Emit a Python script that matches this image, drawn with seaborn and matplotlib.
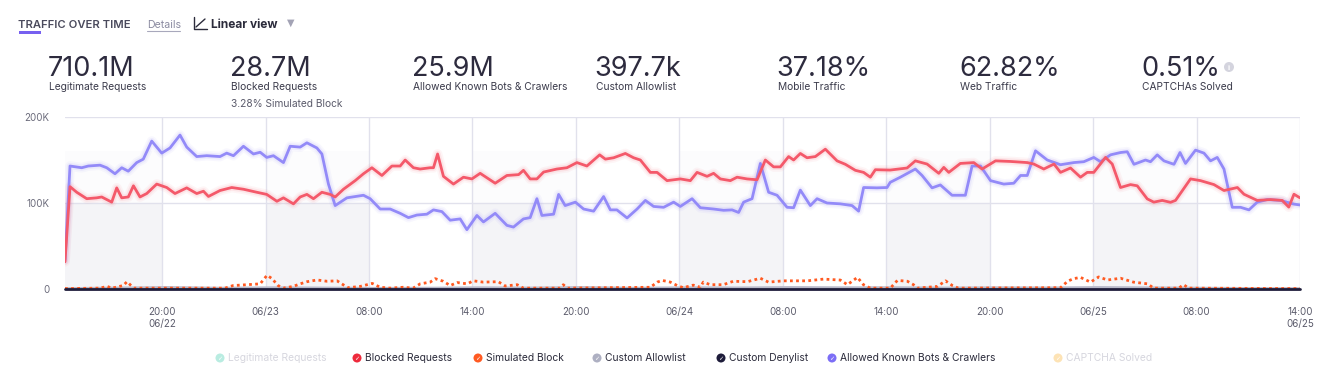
import numpy as np
import pandas as pd
import seaborn as sns
import matplotlib.pyplot as plt
from matplotlib.patches import Circle, Rectangle

# ---- data (hours since start of window, values in thousands) ----
bots_hours = [0.0, 0.29, 0.97, 1.35, 2.03, 2.42, 2.90, 3.29, 3.67, 4.16, 4.54, 5.03, 5.61, 6.09,
              6.67, 7.06, 7.64, 8.22, 8.99, 9.38, 9.77, 10.35, 10.93, 11.32, 11.70, 12.09, 12.67,
              13.06, 13.64, 14.03, 14.61, 14.90, 15.28, 15.67, 16.35, 17.31, 17.70, 18.28, 18.86,
              19.44, 19.92, 20.41, 20.99, 21.37, 21.86, 22.34, 22.92, 23.31, 23.89, 24.27, 24.95,
              25.63, 26.01, 26.59, 26.98, 27.37, 27.66, 28.34, 28.63, 29.01, 29.60, 30.08, 30.66,
              31.24, 31.63, 32.01, 32.60, 33.18, 33.66, 34.14, 34.72, 35.30, 35.69, 36.37, 36.85,
              37.62, 38.20, 38.69, 39.07, 39.36, 39.85, 40.33, 40.81, 41.30, 41.88, 42.26, 42.65,
              43.23, 43.62, 44.20, 44.97, 45.65, 46.03, 46.32, 47.10, 47.68, 47.86, 48.45, 49.32,
              49.71, 50.29, 50.77, 51.45, 52.22, 52.61, 53.10, 53.68, 54.45, 55.03, 55.42, 55.81,
              56.29, 56.97, 57.74, 58.51, 59.09, 59.67, 60.06, 60.64, 61.22, 61.61, 62.00, 62.67,
              62.96, 63.35, 63.74, 64.32, 64.67, 64.99, 65.57, 66.06, 66.44, 66.83, 67.22, 67.70,
              68.18, 68.67, 69.15, 69.73, 70.50, 71.28, 71.63]
bots_k = [34, 143, 141, 143, 144, 141, 134, 141, 137, 147, 151, 172, 158, 164,
          179, 165, 154, 155, 154, 158, 155, 166, 157, 159, 153, 155, 147,
          166, 165, 170, 164, 157, 122, 97, 106, 109, 105, 93, 93,
          88, 83, 86, 87, 92, 90, 80, 81.5, 69, 85.5, 78, 88,
          74, 72, 81.5, 83, 105, 85.5, 87, 110, 97, 101, 93, 90.5,
          107.5, 92, 92, 82.6, 93, 103, 96, 95, 101, 96, 105, 94.5,
          93, 91.5, 92, 89, 101, 105, 146, 112.5, 109, 95, 94.5, 115,
          97, 105, 100, 99, 97, 90.5, 118, 117.6, 118, 124, 130, 139.5,
          132, 117.6, 121, 109, 109, 143, 143, 126, 122, 123, 132, 132,
          160.7, 150, 144.5, 147, 148, 153, 148, 156, 158.7, 159.6, 145, 150,
          148, 156, 149, 145, 158.7, 146, 161.5, 158, 149, 153, 139.5, 95,
          95, 92, 101, 104, 103, 98.7, 97.7]

blocked_hours = [0.0, 0.29, 0.68, 1.26, 1.84, 2.13, 2.71, 3.00, 3.29, 3.67, 3.97, 4.35, 4.74,
                 5.32, 5.90, 6.38, 7.06, 7.64, 8.03, 8.32, 8.99, 9.67, 10.35, 11.12, 11.70,
                 12.29, 12.67, 13.25, 13.64, 14.03, 14.41, 14.90, 15.38, 15.67, 16.15, 16.83,
                 17.31, 17.80, 18.38, 18.96, 19.44, 19.73, 20.21, 20.60, 21.18, 21.37, 21.61,
                 21.95, 22.53, 23.11, 23.60, 24.08, 24.95, 25.63, 26.31, 26.59, 26.98, 27.37,
                 27.76, 28.53, 29.11, 29.69, 30.27, 31.01, 31.34, 31.82, 32.50, 32.98, 33.37,
                 33.95, 34.34, 34.92, 35.69, 36.27, 36.66, 37.24, 37.62, 38.01, 38.59, 38.98,
                 39.56, 40.14, 40.62, 41.10, 41.49, 41.97, 42.26, 42.65, 43.04, 43.52, 44.10,
                 44.78, 45.26, 45.84, 46.32, 46.71, 47.00, 47.86, 48.84, 49.32, 50.00, 50.68,
                 50.97, 51.26, 51.93, 52.71, 53.19, 53.97, 54.84, 55.81, 56.19, 56.77, 57.36,
                 57.74, 58.32, 58.90, 59.29, 59.67, 60.35, 60.74, 61.22, 61.80, 62.19, 62.77,
                 63.15, 63.64, 64.12, 64.41, 65.28, 65.86, 66.64, 67.22, 68.00, 68.38, 69.15,
                 69.92, 70.60, 70.98, 71.28, 71.63]
blocked_k = [31.6, 119, 112.5, 105, 106, 107, 101, 117.6, 106, 107, 120, 107, 111,
             122, 118, 111, 117.6, 111, 113.7, 107.6, 114.5, 118, 116, 112.5, 110,
             102, 106, 99, 107, 110, 105, 112.5, 110, 107, 116, 126,
             134, 141, 132, 143, 143, 150, 141, 139.5, 141, 141, 157,
             131, 122, 130, 128, 134.5, 123, 132, 133, 138, 128, 128,
             136, 139.5, 141, 147, 143, 156, 151, 152.6, 157.6, 152.6, 150,
             135.6, 135.6, 126, 128, 126, 135.6, 131, 134.5, 128, 126, 130,
             128, 127, 150, 142, 142, 154, 150, 157.6, 152.6, 154, 162.6,
             149, 145, 138, 135.6, 130, 138.7, 138.3, 140.7, 149, 145.3, 134.5,
             141.4, 135.6, 146, 147, 139.5, 149, 148.3, 147, 145.3, 139.5, 145.3,
             135.6, 140.7, 130, 135.6, 135.6, 153, 145.3, 118, 121.4, 120, 104.8,
             101, 103, 100.8, 103, 128, 126, 121.4, 114.5, 118, 110.2, 103,
             104, 103, 95.2, 110.2, 106]

sim_hours = [0.0, 2.03, 2.44, 2.73, 3.37, 3.60, 3.83, 4.00, 9.28, 9.75, 10.56, 11.32, 11.72,
             12.01, 12.36, 12.65, 13.23, 13.64, 14.04, 14.62, 15.20, 15.78, 16.13, 16.42,
             17.12, 17.82, 18.28, 18.86, 19.61, 20.19, 20.60, 21.18, 21.47, 21.94, 22.34,
             22.75, 23.33, 23.68, 24.26, 25.13, 25.53, 26.23, 26.58, 28.72, 28.90, 29.13,
             33.95, 34.35, 34.64, 35.11, 35.51, 35.86, 36.44, 36.85, 37.02, 37.43, 38.18,
             38.76, 39.58, 40.33, 40.80, 41.67, 43.06, 43.99, 44.97, 45.38, 45.96, 46.31,
             46.71, 47.87, 48.28, 48.86, 49.21, 49.44, 50.60, 51.07, 51.47, 51.82, 57.74,
             58.15, 58.49, 58.90, 59.48, 59.95, 60.47, 61.22, 61.97, 62.79, 63.14, 64.59,
             64.88, 65.17, 71.63]
sim_k = [0.5, 1, 3, 1, 4, 8.5, 4, 1, 1, 4, 5, 6, 16,
         12, 4, 1, 3, 6, 8.5, 10.5, 9, 9.5, 5, 1.5,
         3, 6.5, 2, 1, 2, 1, 6, 8, 12, 9, 4,
         7.5, 6, 9.5, 8, 8.5, 3.5, 5, 1, 1, 5, 1,
         2, 8, 10, 8, 4, 1.5, 4.5, 2, 8, 5, 5,
         9, 8.5, 12.5, 8, 9.5, 9.5, 11.5, 10.4, 5, 13.5, 5,
         1, 1, 10, 9, 5, 1, 3, 9.5, 4, 1, 1.5,
         9, 12, 13.5, 8, 14, 10.5, 12.5, 8, 6, 1, 1,
         5, 1, 0.5]

allow_hours = [0, 3, 6, 9, 12, 15, 18, 21, 24, 27, 30, 33, 36, 39, 42, 45, 48, 51, 54, 57,
               60, 63, 66, 69, 71.63]
allow_k = [0.5, 1.2, 1.8, 1.0, 1.5, 1.2, 0.8, 1.0, 1.5, 1.2, 1.8, 1.0, 1.5, 1.3, 1.8, 1.5,
           1.6, 1.2, 1.5, 1.3, 1.8, 1.4, 1.0, 0.6, 0.5]

deny_hours = [0, 71.63]
deny_k = [0, 0]

tick_hours = [5.63, 11.63, 17.63, 23.63, 29.63, 35.63, 41.63, 47.63, 53.63, 59.63, 65.63, 71.63]
tick_labels = ["20:00\n06/22", "06/23", "08:00", "14:00", "20:00", "06/24", "08:00", "14:00",
               "20:00", "06/25", "08:00", "14:00\n06/25"]
night_bands = [(0, 5.63), (11.63, 17.63), (23.63, 29.63), (35.63, 41.63), (47.63, 53.63),
               (59.63, 65.63)]

kpi_values = ["710.1M", "28.7M", "25.9M", "397.7k", "37.18%", "62.82%", "0.51%"]
kpi_labels = ["Legitimate Requests", "Blocked Requests", "Allowed Known Bots & Crawlers",
              "Custom Allowlist", "Mobile Traffic", "Web Traffic", "CAPTCHAs Solved"]

legend_names = ["Legitimate Requests", "Blocked Requests", "Simulated Block", "Custom Allowlist",
                "Custom Denylist", "Allowed Known Bots & Crawlers", "CAPTCHA Solved"]
legend_colors = ["#b9ece1", "#ee2a3c", "#ff5a22", "#aeb0c2", "#1e1c3a", "#7c6ef6", "#fde3b5"]
legend_active = [False, True, True, True, True, True, False]

# ---- style ----
sns.set_style("white")
plt.rcParams['font.family'] = ['Inter', 'DejaVu Sans']

W, H = 1335, 380
fig = plt.figure(figsize=(W / 100, H / 100), dpi=100)

# chart axes
ax = fig.add_axes([65 / W, 1 - 289 / H, (1300 - 65) / W, (289 - 117) / H])
for a, b in night_bands:
    ax.axvspan(a, b, ymin=0, ymax=0.5, color="#f4f4f7", lw=0, zorder=0)
    ax.axvspan(a, b, ymin=0.5, ymax=0.8, color="#fcfcfd", lw=0, zorder=0)

ax.set_xlim(0, 71.63)
ax.set_ylim(0, 200)
ax.set_yticks([0, 100, 200])
ax.set_yticklabels(["0", "100K", "200K"])
ax.set_xticks(tick_hours)
ax.set_xticklabels(tick_labels, linespacing=1.35)
ax.grid(True, color="#e1e1ec", lw=1)
ax.set_axisbelow(True)
for s in ax.spines.values():
    s.set_visible(False)
ax.spines['bottom'].set_position(('outward', 6.5))
ax.tick_params(axis='y', length=0, pad=11, labelsize=7, labelcolor="#6b6b7b")
ax.tick_params(axis='x', length=3.6, width=1, color="#c9c9dc", pad=3,
               labelsize=7, labelcolor="#5b5b6b")

df_bots = pd.DataFrame({'h': bots_hours, 'v': bots_k})
df_blk = pd.DataFrame({'h': blocked_hours, 'v': blocked_k})
df_sim = pd.DataFrame({'h': sim_hours, 'v': sim_k})
df_allow = pd.DataFrame({'h': allow_hours, 'v': allow_k})
df_deny = pd.DataFrame({'h': deny_hours, 'v': deny_k})

# soft glow under the main lines
for df, col in [(df_bots, "#8f86f8"), (df_blk, "#f4596a")]:
    for lw, al in [(7, 0.06), (4.5, 0.10)]:
        sns.lineplot(data=df, x='h', y='v', ax=ax, color=col, lw=lw, alpha=al,
                     sort=False, estimator=None, zorder=3)

sns.lineplot(data=df_allow, x='h', y='v', ax=ax, color="#b9bacb", lw=2, sort=False,
             estimator=None, zorder=3)
sns.lineplot(data=df_sim, x='h', y='v', ax=ax, color="#ff5a22", lw=2,
             linestyle=(0, (1, 1.2)), sort=False, estimator=None, zorder=4)
sns.lineplot(data=df_bots, x='h', y='v', ax=ax, color="#938af8", lw=2, sort=False,
             estimator=None, zorder=5)
sns.lineplot(data=df_blk, x='h', y='v', ax=ax, color="#f4596a", lw=2, sort=False,
             estimator=None, zorder=6)
ln = sns.lineplot(data=df_deny, x='h', y='v', ax=ax, color="#1e1c3a", lw=2, sort=False,
                  estimator=None, zorder=7)
ln.lines[-1].set_clip_on(False)
ax.set_xlabel("")
ax.set_ylabel("")

# overlay in pixel coordinates for header, KPIs and legend
ov = fig.add_axes([0, 0, 1, 1], zorder=10)
ov.set_xlim(0, W)
ov.set_ylim(H, 0)
ov.axis('off')

ov.text(18, 28, "TRAFFIC OVER TIME", fontsize=8.1, fontweight='semibold', color="#4a4a5c",
        va='baseline')
ov.add_patch(Rectangle((19, 30.5), 22, 3, color="#7760f0", lw=0))
ov.text(147, 28, "Details", fontsize=7.6, color="#8a8aa0", va='baseline')
ov.plot([147, 180], [31, 31], color="#a8a8bc", lw=0.8)
ov.plot([194, 194, 207], [17, 29, 29], color="#2b2b3b", lw=1)
ov.plot([196, 205], [27, 19], color="#2b2b3b", lw=1)
ov.text(211, 28, "Linear view", fontsize=8.6, fontweight='bold', color="#2b2b3b", va='baseline')
ov.text(287, 26, "\u25bc", fontsize=7, color="#a3a3b5", va='baseline', family='DejaVu Sans')

for i, (val, lab) in enumerate(zip(kpi_values, kpi_labels)):
    x0 = 48 + i * 182.2
    ov.text(x0, 76, val, fontsize=19.5, color="#2d2b3e", va='baseline', fontweight='normal')
    ov.text(x0 + 1, 90, lab, fontsize=7.35, color="#3b3b4b", va='baseline')
ov.text(231, 107, "3.28% Simulated Block", fontsize=7.35, color="#5b5b6b", va='baseline')
ov.add_patch(Circle((1229, 67), 5, color="#d4d4de", lw=0))
ov.text(1229, 67.5, "i", fontsize=5.5, color="white", ha='center', va='center',
        fontweight='bold')

legend_x = [220, 357, 478, 597, 721, 832, 1058]
for x0, name, col, act in zip(legend_x, legend_names, legend_colors, legend_active):
    ov.add_patch(Circle((x0, 358), 4.5, color=col, lw=0))
    ov.text(x0, 358.5, "\u2713", fontsize=4.5, color="white", ha='center', va='center',
            family='DejaVu Sans')
    ov.text(x0 + 8, 358, name, fontsize=7.4, color="#2b2b3b" if act else "#d6d6de",
            va='center')

fig.savefig("out.png", dpi=100)
